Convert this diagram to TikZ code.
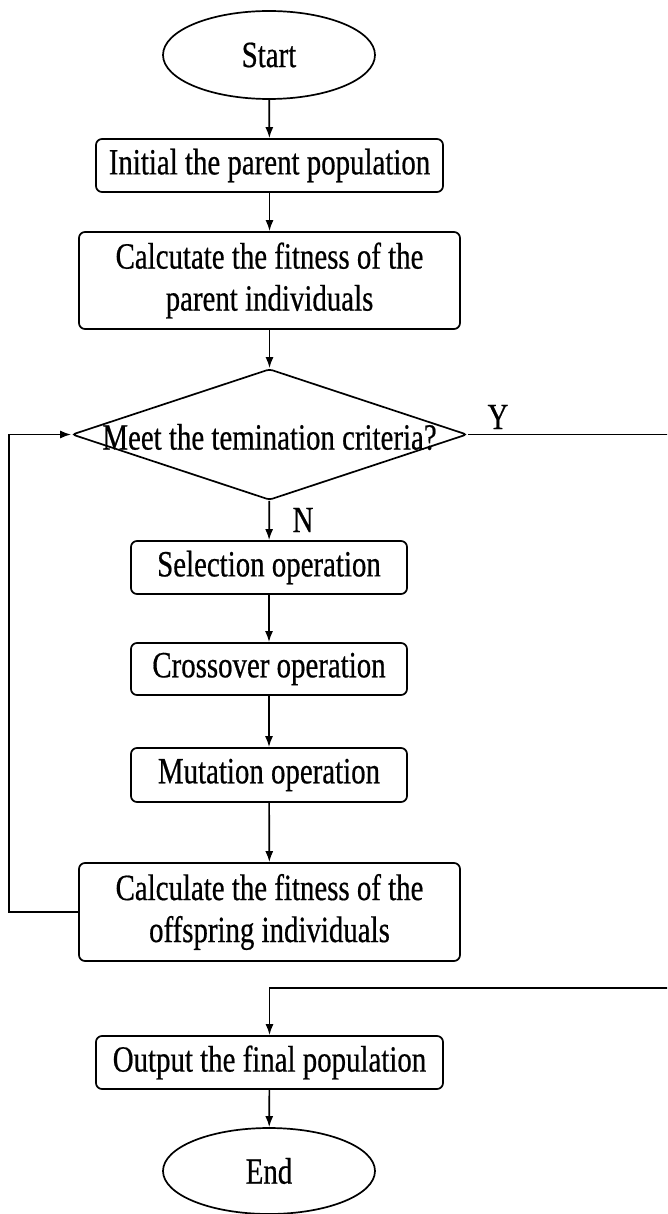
\documentclass[tikz,border=0pt]{standalone}
\usepackage{fontspec}
\setmainfont{Liberation Serif}[FakeStretch=0.78,FakeBold=0.5]
\usetikzlibrary{shapes.geometric,arrows.meta}

\tikzset{
  base/.style={draw, line width=1.7pt, inner sep=0pt, align=center,
    font=\fontsize{37}{42}\selectfont},
  procbox/.style={base, rectangle, rounded corners=6pt},
  terminal/.style={base, ellipse, minimum width=212pt, minimum height=88pt},
  decision/.style={draw, line width=1.7pt, diamond, inner sep=0pt,
    rounded corners=3pt, minimum width=395pt, minimum height=131pt},
  flow/.style={line width=1.7pt, -{Latex[length=11pt,width=8pt]}},
  tag/.style={font=\fontsize{37}{42}\selectfont, inner sep=0pt}
}

\begin{document}
\begin{tikzpicture}[x=1pt,y=-1pt]
\clip (0,0) rectangle (667,1214);
\fill[white] (0,0) rectangle (667,1214);

% main column
\node[terminal] (start) at (269,55) {Start};
\node[procbox, minimum width=347pt, minimum height=53pt] (init) at (269.5,165.5) {Initial the parent population};
\node[procbox, minimum width=381pt, minimum height=97pt] (fitp) at (269.5,280.5) {Calcutate the fitness of the\\parent individuals};
\node[decision] (dec) at (269.5,434.5) {};
\node[tag] (dectext) at (269.5,437) {Meet the temination criteria?};
\node[procbox, minimum width=276pt, minimum height=53pt] (sel) at (269,567.5) {Selection operation};
\node[procbox, minimum width=276pt, minimum height=52pt] (cross) at (269,669) {Crossover operation};
\node[procbox, minimum width=276pt, minimum height=54pt] (mut) at (269,775) {Mutation operation};
\node[procbox, minimum width=381pt, minimum height=98pt] (fito) at (269.5,912) {Calculate the fitness of the\\offspring individuals};
\node[procbox, minimum width=347pt, minimum height=53pt] (out) at (269.5,1062.5) {Output the final population};
\node[terminal, minimum height=86pt] (end) at (269,1171) {End};

% branch labels
\node[tag] (ylab) at (498,417) {Y};
\node[tag] (nlab) at (303,520) {N};

% loop and exit routing points
\coordinate (loopbot) at (9,912);
\coordinate (looptop) at (9,434.5);
\coordinate (exittop) at (670,434.5);
\coordinate (exitbot) at (670,988);
\coordinate (outin) at (269.5,988);

% connectors
\draw[flow] (start) -- (init);
\draw[flow] (init) -- (fitp);
\draw[flow] (fitp) -- (dec);
\draw[flow] (dec) -- (sel);
\draw[flow] (sel) -- (cross);
\draw[flow] (cross) -- (mut);
\draw[flow] (mut) -- (fito);
\draw[flow] (fito.west) -- (loopbot) -- (looptop) -- (dec.west);
\draw[flow] (dec.east) -- (exittop) -- (exitbot) -- (outin) -- (out.north);
\draw[flow] (out) -- (end);
\end{tikzpicture}
\end{document}
